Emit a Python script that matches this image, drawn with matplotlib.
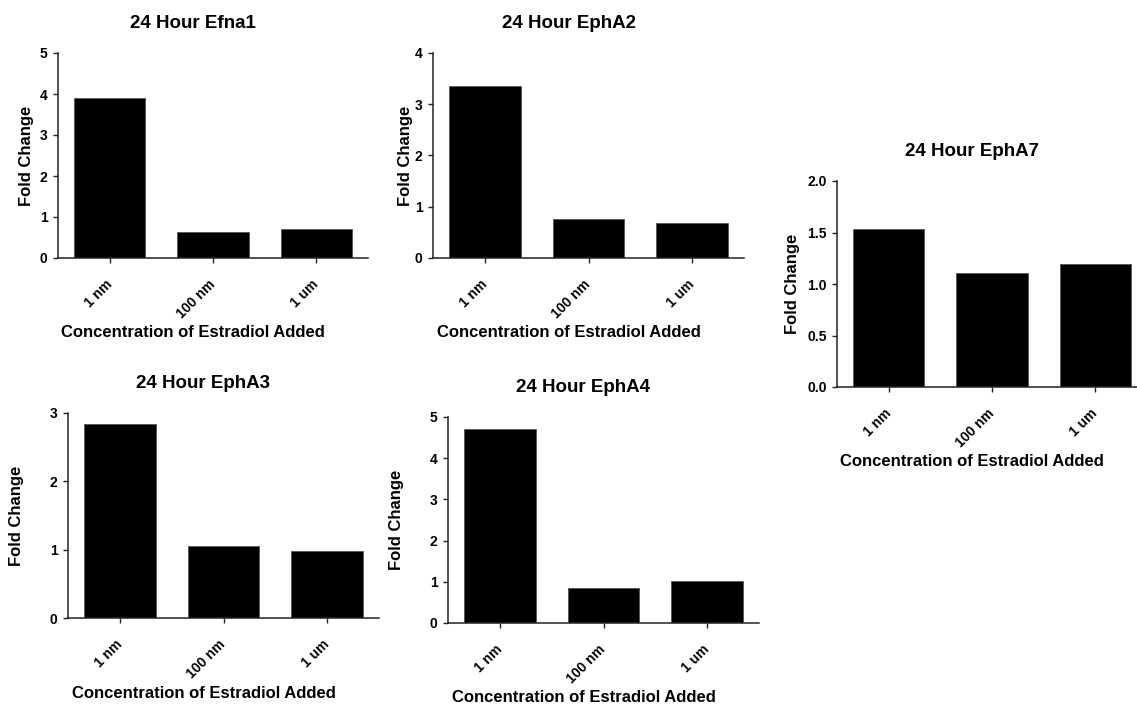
import matplotlib
matplotlib.use('Agg')
import matplotlib.pyplot as plt
from matplotlib.ticker import FormatStrFormatter

plt.rcParams['font.family'] = ['Liberation Sans', 'DejaVu Sans']
plt.rcParams['font.weight'] = 'bold'

# DATA
CONCENTRATIONS = ['1 nm', '100 nm', '1 um']
GENES = ['Efna1', 'EphA2', 'EphA7', 'EphA3', 'EphA4']
EFNA1 = [3.90, 0.63, 0.71]
EPHA2 = [3.36, 0.76, 0.69]
EPHA7 = [1.53, 1.11, 1.19]
EPHA3 = [2.84, 1.05, 0.98]
EPHA4 = [4.72, 0.86, 1.03]
VALUES = [EFNA1, EPHA2, EPHA7, EPHA3, EPHA4]
Y_MAX = [5, 4, 2.0, 3, 5]
Y_STEP = [1, 1, 0.5, 1, 1]

# LAYOUT (pixels): axis left, y-top, y-zero, right, ylabel offset
W, H = 1137, 707
LAYOUT = [
    (58, 53, 258, 368, 31),
    (433, 53, 258, 744, 28),
    (837, 181, 387, 1147, 44),
    (68, 413, 618, 379, 51),
    (448, 417, 623, 759, 51),
]

fig = plt.figure(figsize=(W / 100, H / 100), dpi=100)

for gene, vals, ymax, step, (l, t, b, r, yoff) in zip(GENES, VALUES, Y_MAX, Y_STEP, LAYOUT):
    ax = fig.add_axes([l / W, 1 - b / H, (r - l) / W, (b - t) / H])
    x = list(range(len(CONCENTRATIONS)))
    ax.bar(x, vals, width=0.69, color='black', edgecolor='#555555', linewidth=0.6)
    ax.set_xlim(-0.5, 2.5)
    ax.set_ylim(0, ymax)
    n = int(round(ymax / step))
    ax.set_yticks([i * step for i in range(n + 1)])
    if step < 1:
        ax.yaxis.set_major_formatter(FormatStrFormatter('%.1f'))
    ax.set_xticks(x)
    ax.set_xticklabels(CONCENTRATIONS, rotation=45, ha='right', va='center',
                       rotation_mode='anchor', fontsize=10, fontweight='bold')
    for lab in ax.get_yticklabels():
        lab.set_fontsize(10)
        lab.set_fontweight('bold')
    for s in ['top', 'right']:
        ax.spines[s].set_visible(False)
    for s in ['left', 'bottom']:
        ax.spines[s].set_linewidth(1.1)
        ax.spines[s].set_color('#222222')
    ax.tick_params(axis='both', direction='out', length=3.5, width=1.0, color='#222222')
    ax.tick_params(axis='x', pad=14)
    ax.tick_params(axis='y', pad=4)

    cx = (l + r) / 2 - 20
    fig.text(cx / W, 1 - (t - 30) / H, '24 Hour ' + gene, ha='center', va='center',
             fontsize=13.5, fontweight='bold')
    fig.text(cx / W, 1 - (b + 75) / H, 'Concentration of Estradiol Added', ha='center',
             va='center', fontsize=12, fontweight='bold')
    fig.text((l - yoff) / W, 1 - ((t + b) / 2) / H, 'Fold Change', ha='center', va='center',
             rotation=90, fontsize=12, fontweight='bold')

fig.savefig('out.png', dpi=100)
